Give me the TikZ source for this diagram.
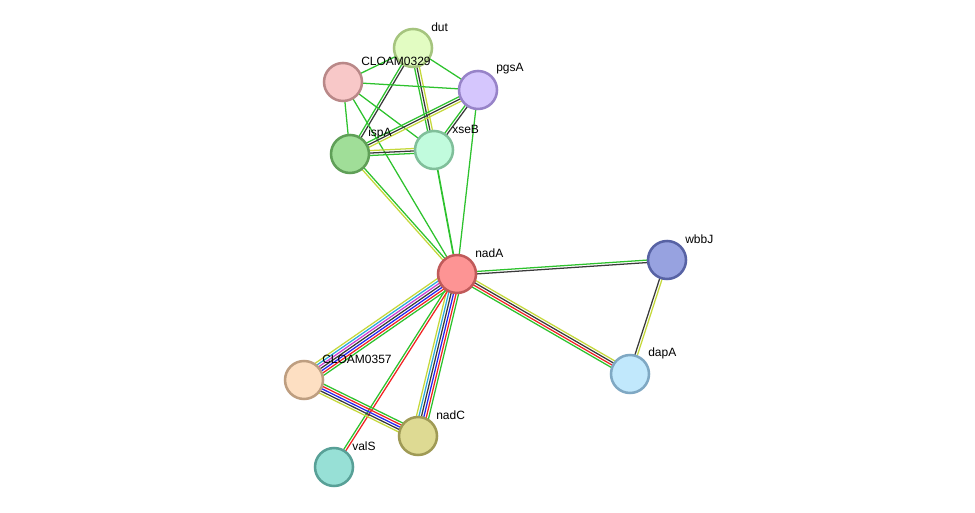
\documentclass[tikz,border=0pt]{standalone}
\usepackage{fontspec}
\setmainfont{Liberation Sans}
\usetikzlibrary{calc,backgrounds}

\definecolor{nbgreen}{HTML}{2DC22D}
\definecolor{txyellow}{HTML}{C5D83A}
\definecolor{coblack}{HTML}{3A3A3A}
\definecolor{exmagenta}{HTML}{CF3FD0}
\definecolor{dbcyan}{HTML}{2BA9DA}
\definecolor{ocblue}{HTML}{2424F0}
\definecolor{fured}{HTML}{F02424}

\definecolor{nadAfill}{HTML}{FD9494}\definecolor{nadAline}{HTML}{C05A5A}
\definecolor{dutfill}{HTML}{E2FCC2}\definecolor{dutline}{HTML}{A5C47E}
\definecolor{c29fill}{HTML}{F8C8C8}\definecolor{c29line}{HTML}{B98888}
\definecolor{pgsfill}{HTML}{D5C6FD}\definecolor{pgsline}{HTML}{9783C8}
\definecolor{ispfill}{HTML}{A0DE98}\definecolor{ispline}{HTML}{5F9F57}
\definecolor{xsefill}{HTML}{C1FBDD}\definecolor{xseline}{HTML}{80BF9A}
\definecolor{wbbfill}{HTML}{97A2E0}\definecolor{wbbline}{HTML}{5762A4}
\definecolor{dapfill}{HTML}{C1E8FC}\definecolor{dapline}{HTML}{7FA8C3}
\definecolor{c57fill}{HTML}{FDDFC2}\definecolor{c57line}{HTML}{BE9E80}
\definecolor{nadCfill}{HTML}{DEDA93}\definecolor{nadCline}{HTML}{9F9A55}
\definecolor{valfill}{HTML}{97E0D6}\definecolor{valline}{HTML}{58A097}

% parallel lines between two proteins, one per colour
\newcommand{\bundle}[4]{%
  \foreach \c [count=\i] in {#4}{%
    \pgfmathsetmacro{\off}{(\i-(#3+1)/2)*1.85}%
    \draw[\c, line width=0.95pt] ($(#1)!\off pt!90:(#2)$) -- ($(#2)!\off pt!-90:(#1)$);
  }}

\begin{document}
\begin{tikzpicture}[x=0.75pt, y=-0.75pt,
    prot/.style={circle, line width=1.9pt, minimum size=28.5pt, inner sep=0pt},
    every label/.style={font=\fontsize{9}{10}\selectfont, inner sep=0pt, yshift=15.75pt},
    label distance=-1.7pt]
        \useasboundingbox (0,0) rectangle (975,513);

        \node[prot, fill=nadAfill, draw=nadAline, label=right:nadA] (nadA) at (457,274) {};
        \node[prot, fill=dutfill, draw=dutline, label=right:dut] (dut) at (413,48) {};
        \node[prot, fill=c29fill, draw=c29line, label=right:CLOAM0329] (CLOAM0329) at (343,82) {};
        \node[prot, fill=pgsfill, draw=pgsline, label=right:pgsA] (pgsA) at (478,90) {};
        \node[prot, fill=ispfill, draw=ispline, label=right:ispA] (ispA) at (350,154) {};
        \node[prot, fill=xsefill, draw=xseline, label=right:xseB] (xseB) at (434,150) {};
        \node[prot, fill=wbbfill, draw=wbbline, label=right:wbbJ] (wbbJ) at (667,260) {};
        \node[prot, fill=dapfill, draw=dapline, label=right:dapA] (dapA) at (630,374) {};
        \node[prot, fill=c57fill, draw=c57line, label=right:CLOAM0357] (CLOAM0357) at (304,380) {};
        \node[prot, fill=nadCfill, draw=nadCline, label=right:nadC] (nadC) at (418,436) {};
        \node[prot, fill=valfill, draw=valline, label=right:valS] (valS) at (334,467) {};

        \begin{pgfonlayer}{background}
        % upper cluster
        \bundle{dut}{CLOAM0329}{1}{nbgreen}
        \bundle{dut}{pgsA}{1}{nbgreen}
        \bundle{dut}{ispA}{2}{nbgreen,coblack}
        \bundle{dut}{xseB}{3}{nbgreen,coblack,txyellow}
        \bundle{CLOAM0329}{pgsA}{1}{nbgreen}
        \bundle{CLOAM0329}{ispA}{1}{nbgreen}
        \bundle{CLOAM0329}{xseB}{1}{nbgreen}
        \bundle{CLOAM0329}{nadA}{1}{nbgreen}
        \bundle{pgsA}{ispA}{3}{nbgreen,coblack,txyellow}
        \bundle{pgsA}{xseB}{2}{nbgreen,coblack}
        \bundle{pgsA}{nadA}{1}{nbgreen}
        \bundle{ispA}{xseB}{3}{nbgreen,coblack,txyellow}
        \bundle{ispA}{nadA}{2}{txyellow,nbgreen}
        \draw[nbgreen, line width=1.3pt] (xseB) -- (nadA);
        % nadA and the rest
        \bundle{nadA}{wbbJ}{2}{coblack,nbgreen}
        \bundle{nadA}{dapA}{4}{nbgreen,fured,coblack,txyellow}
        \bundle{wbbJ}{dapA}{2}{coblack,txyellow}
        \bundle{nadA}{CLOAM0357}{7}{txyellow,dbcyan,exmagenta,coblack,ocblue,fured,nbgreen}
        \bundle{nadA}{nadC}{6}{txyellow,dbcyan,coblack,ocblue,fured,nbgreen}
        \bundle{nadA}{valS}{2}{nbgreen,fured}
        \bundle{CLOAM0357}{nadC}{5}{txyellow,coblack,ocblue,fured,nbgreen}
        \end{pgfonlayer}
    \end{tikzpicture}
\end{document}
